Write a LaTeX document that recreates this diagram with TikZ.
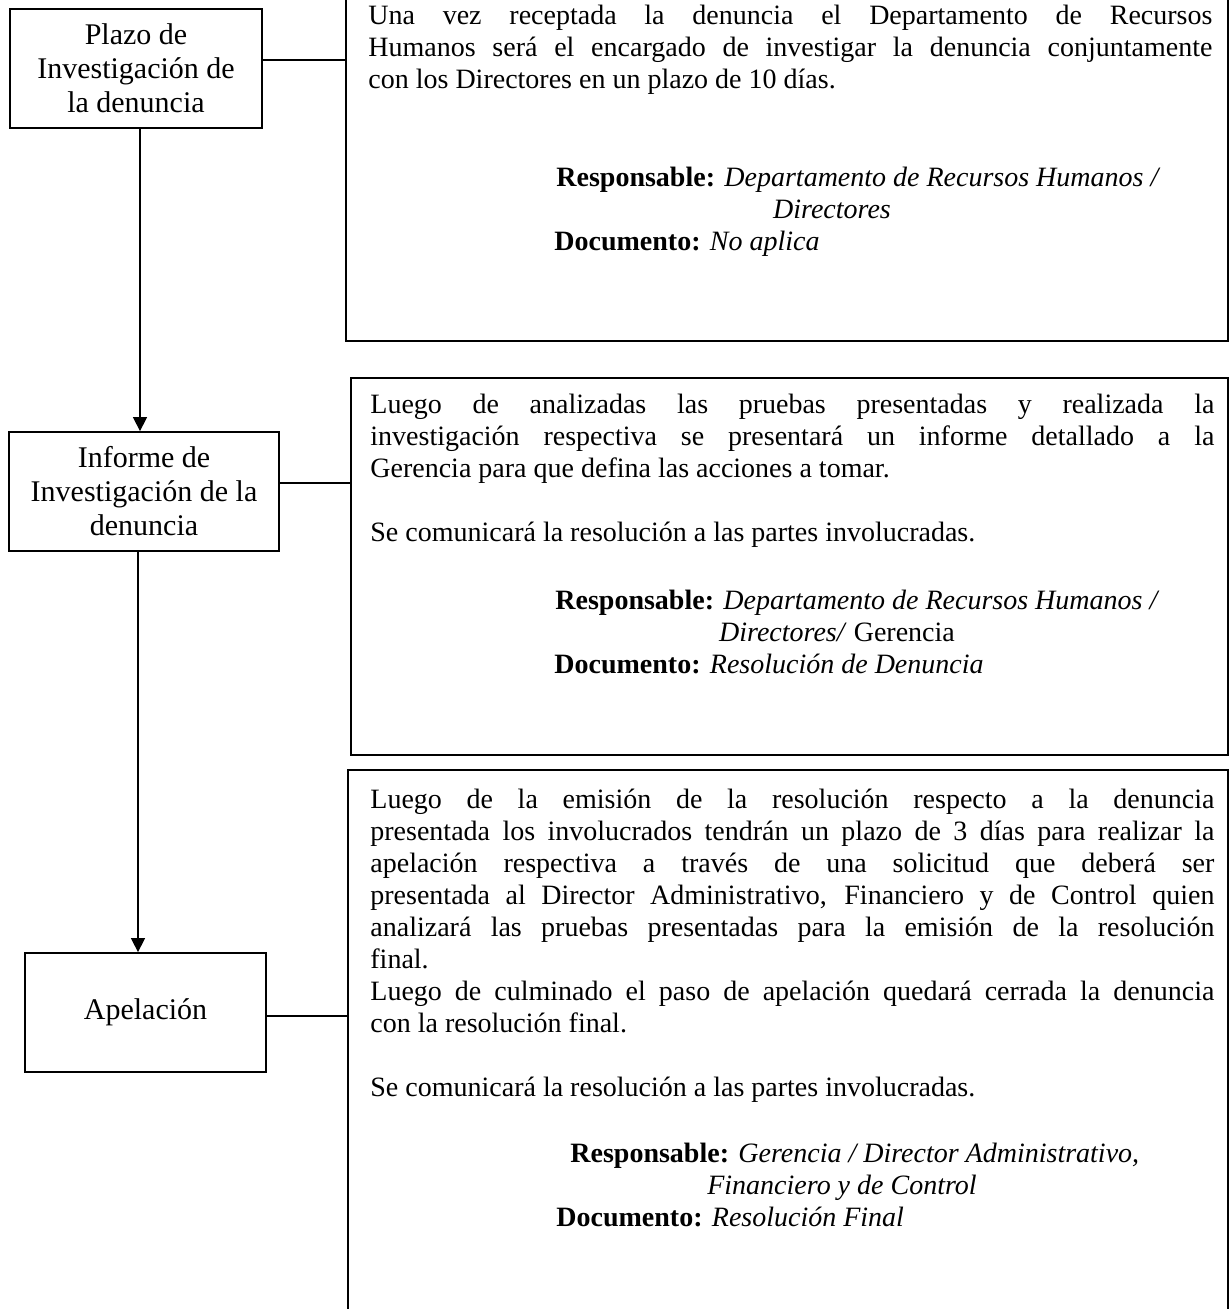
\documentclass[tikz,border=0pt]{standalone}
\usepackage{fontspec}
\setmainfont{Liberation Serif}
\usetikzlibrary{arrows.meta}
\hyphenpenalty=10000
\exhyphenpenalty=10000
\tikzset{
  paso/.style={draw,line width=0.9pt,align=center,inner sep=0pt,
    font=\fontsize{15pt}{17pt}\selectfont},
  marco/.style={draw,line width=0.7pt,inner sep=0pt},
  parrafo/.style={anchor=base west,inner sep=0pt,text width=422pt,align=justify,
    font=\fontsize{14pt}{16pt}\selectfont},
  linea/.style={inner sep=0pt,font=\fontsize{14pt}{16pt}\selectfont},
  enlace/.style={line width=0.6pt},
  flecha/.style={line width=0.7pt,-{Triangle[length=7pt,width=7pt]}},
}
\begin{document}
\begin{tikzpicture}[x=0.5pt,y=-0.5pt]
%%
\useasboundingbox (0,0) rectangle (1230,1309);
\clip (0,0) rectangle (1230,1309);
% pasos
\node (plazo) at (136,68.5) [paso,minimum width=126pt,minimum height=59.5pt] {Plazo de\\Investigación de\\la denuncia};
\node (informe) at (144,491.5) [paso,minimum width=135pt,minimum height=59.5pt] {Informe de\\Investigación de la\\denuncia};
\node (apelacion) at (145.5,1012.5) [paso,minimum width=120.5pt,minimum height=59.5pt] {Apelación};
% marcos
\node (marco1) at (787,160.5) [marco,minimum width=441pt,minimum height=180.5pt] {};
\node (marco2) at (789.5,566.5) [marco,minimum width=438.5pt,minimum height=188.5pt] {};
\node (marco3) at (788,1055) [marco,minimum width=440pt,minimum height=285pt] {};
% textos
\node (texto1) at (368,25) [parrafo] {Una vez receptada la denuncia el Departamento de Recursos\linebreak
Humanos será el encargado de investigar la denuncia conjuntamente\linebreak
con los Directores en un plazo de 10 días.};
\node (resp1) at (556,187) [linea,anchor=base west] {\textbf{Responsable:} \textit{Departamento de Recursos Humanos /}};
\node (resp1b) at (832,219) [linea,anchor=base] {\textit{Directores}};
\node (doc1) at (554,251) [linea,anchor=base west] {\textbf{Documento:} \textit{No aplica}};
%
\node (texto2) at (370,414) [parrafo] {Luego de analizadas las pruebas presentadas y realizada la\linebreak
investigación respectiva se presentará un informe detallado a la\linebreak
Gerencia para que defina las acciones a tomar.\par\vspace{16pt}
Se comunicará la resolución a las partes involucradas.};
\node (resp2) at (555,609) [linea,anchor=base west] {\textbf{Responsable:} \textit{Departamento de Recursos Humanos /}};
\node (resp2b) at (837,641) [linea,anchor=base] {\textit{Directores/} Gerencia};
\node (doc2) at (554,673) [linea,anchor=base west] {\textbf{Documento:} \textit{Resolución de Denuncia}};
%
\node (texto3) at (370,808) [parrafo] {Luego de la emisión de la resolución respecto a la denuncia\linebreak
presentada los involucrados tendrán un plazo de 3 días para realizar la\linebreak
apelación respectiva a través de una solicitud que deberá ser\linebreak
presentada al Director Administrativo, Financiero y de Control quien\linebreak
analizará las pruebas presentadas para la emisión de la resolución\linebreak
final.\par
Luego de culminado el paso de apelación quedará cerrada la denuncia\linebreak
con la resolución final.\par\vspace{16pt}
Se comunicará la resolución a las partes involucradas.};
\node (resp3) at (570,1162) [linea,anchor=base west] {\textbf{Responsable:} \textit{Gerencia / Director Administrativo,}};
\node (resp3b) at (842,1194) [linea,anchor=base] {\textit{Financiero y de Control}};
\node (doc3) at (556,1226) [linea,anchor=base west] {\textbf{Documento:} \textit{Resolución Final}};
% conectores
\coordinate (c1) at ([yshift=4.25pt]plazo.east);
\coordinate (c2) at ([yshift=4.25pt]informe.east);
\coordinate (c3) at ([yshift=-1.75pt]apelacion.east);
\draw [enlace] (c1) -- (c1 -| marco1.west);
\draw [enlace] (c2) -- (c2 -| marco2.west);
\draw [enlace] (c3) -- (c3 -| marco3.west);
\coordinate (a1) at ([xshift=2pt]plazo.south);
\coordinate (a2) at ([xshift=-3pt]informe.south);
\draw [flecha] (a1) -- (a1 |- informe.north);
\draw [flecha] (a2) -- (a2 |- apelacion.north);
%
\end{tikzpicture}
\end{document}
